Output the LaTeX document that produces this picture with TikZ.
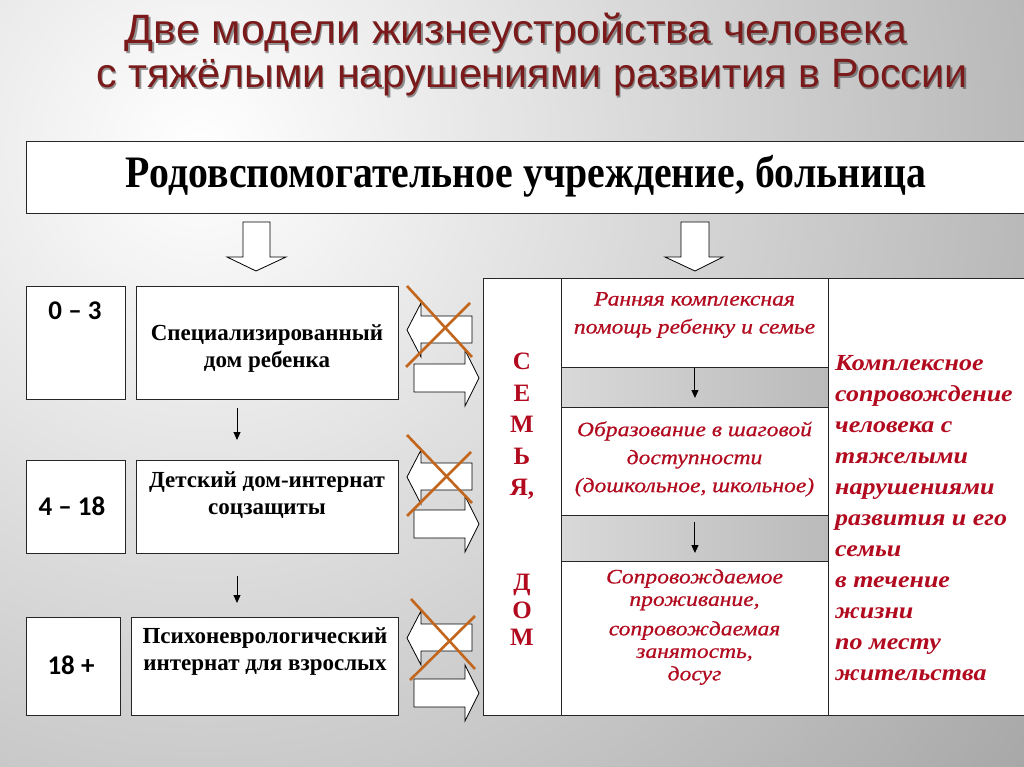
\documentclass[tikz,border=0pt]{standalone}
\usepackage{fontspec}
\usepackage{graphicx}
\usetikzlibrary{arrows.meta}
\setmainfont{Liberation Serif}
\newfontfamily\titlefont{Liberation Sans}
\newfontfamily\agefont{Carlito}
\newfontfamily\midfont{Liberation Serif}[FakeStretch=1.15,FakeBold=0.6]
\newfontfamily\rcfont{Liberation Serif}[FakeStretch=1.13]
\definecolor{maroon}{HTML}{7A1A1A}
\definecolor{redtxt}{HTML}{B20A1E}
\definecolor{xorange}{HTML}{C2661E}
\definecolor{bgdark}{HTML}{A6A6A6}
\newcommand\stretchto[2]{\resizebox{#1pt}{\height}{#2}}
\newcommand\fsz[2]{\fontsize{#1}{#2}\selectfont}
\begin{document}
\begin{tikzpicture}[x=1pt,y=-1pt,
  box/.style={draw=black!85, line width=0.9pt, fill=white, anchor=north west, inner sep=0pt},
  bandbox/.style={draw=black!85, line width=0.9pt, left color=black!15, right color=black!27, anchor=north west, inner sep=0pt},
  blk/.style={draw=black, line width=0.8pt, fill=white, line join=miter},
  cross/.style={draw=xorange, line width=2.6pt},
  arr/.style={draw=black, line width=1pt, -{Triangle[length=8pt,width=7pt]}},
  agetxt/.style={font=\agefont\bfseries\fsz{27}{30}, inner sep=0pt},
  nametxt/.style={font=\bfseries\fsz{23}{27}, align=center, inner sep=0pt},
  midtxt/.style={font=\midfont\itshape\fsz{20.5}{28}, text=redtxt, align=center, inner sep=0pt},
  famtxt/.style={font=\bfseries\fsz{25}{31.5}, text=redtxt, align=center, inner sep=0pt},
]
\useasboundingbox (0,0) rectangle (1024,767);
\begin{scope}
\clip (0,0) rectangle (1024,767);
\fill[bgdark] (0,0) rectangle (1024,767);
\shade[inner color=white, outer color=bgdark] (200,150) circle (1050);

% title
\node[anchor=base, text=black!75, opacity=0.55] at (517.5,45.5) {\stretchto{782}{\titlefont\fsz{41}{41}Две модели жизнеустройства человека}};
\node[anchor=base, text=maroon] (title1) at (516,44) {\stretchto{782}{\titlefont\fsz{41}{41}Две модели жизнеустройства человека}};
\node[anchor=base, text=black!75, opacity=0.55] at (533.5,89.5) {\stretchto{871}{\titlefont\fsz{41}{41}с тяжёлыми нарушениями развития в России}};
\node[anchor=base, text=maroon] (title2) at (532,88) {\stretchto{871}{\titlefont\fsz{41}{41}с тяжёлыми нарушениями развития в России}};

% top box
\node[box, minimum width=1010, minimum height=72] (top) at (26,141) {};
\node[anchor=base, inner sep=0pt] (toptext) at (526,188) {\stretchto{800}{\bfseries\fsz{45}{45}Родовспомогательное учреждение, больница}};

% big down arrows
\draw[blk] (243,222) -- (270,222) -- (270,257) -- (286,257) -- (256,271) -- (227,257) -- (243,257) -- cycle;
\draw[blk] (681,222) -- (709,222) -- (709,257) -- (723,257) -- (695,271) -- (665,257) -- (681,257) -- cycle;

% left column
\node[box, minimum width=99, minimum height=113] (age1) at (26,286) {};
\node[box, minimum width=262, minimum height=113] (inst1) at (136,286) {};
\node[box, minimum width=99, minimum height=93] (age2) at (26,460) {};
\node[box, minimum width=262, minimum height=93] (inst2) at (136,460) {};
\node[box, minimum width=94, minimum height=98] (age3) at (26,617) {};
\node[box, minimum width=267, minimum height=98] (inst3) at (131,617) {};

\node[agetxt] (age1t) at (75,311) {0 – 3};
\node[agetxt] (age2t) at (72,506) {4 – 18};
\node[agetxt] (age3t) at (71,665) {18 +};

\node[nametxt] (inst1t) at (267,349) {Специализированный\\дом ребенка};
\node[nametxt] (inst2t) at (267,495.5) {Детский дом-интернат\\соцзащиты};
\node[nametxt] (inst3t) at (265,652) {Психоневрологический\\интернат для взрослых};

\coordinate (a1s) at (237,408);
\coordinate (a1e) at (237,440);
\coordinate (a2s) at (237,576);
\coordinate (a2e) at (237,603);
\draw[arr] (a1s) -- (a1e);
\draw[arr] (a2s) -- (a2e);

% double block arrows with crosses
\foreach \ld/\rd in {0/0, 147/146, 308/315}{
  \begin{scope}[shift={(0,\ld)}]
    \draw[blk] (407,330) -- (421,303) -- (421,316) -- (472,316) -- (472,343) -- (421,343) -- (421,357) -- cycle;
  \end{scope}
  \begin{scope}[shift={(0,\rd)}]
    \draw[blk] (414,364) -- (465,364) -- (465,350) -- (479,378) -- (465,406) -- (465,392) -- (414,392) -- cycle;
  \end{scope}
}
\draw[cross] (407,286) -- (472,357);
\draw[cross] (470,303) -- (406,367);
\draw[cross] (407,435) -- (472,503);
\draw[cross] (471,452) -- (407,516);
\draw[cross] (411,599) -- (475,669);
\draw[cross] (475,616) -- (410,680);

% right table
\node[box, minimum width=78, minimum height=437] (fam) at (483,278) {};
\node[box, minimum width=267, minimum height=89] (r1) at (561,278) {};
\node[bandbox, minimum width=267, minimum height=40] (g1) at (561,367) {};
\node[box, minimum width=267, minimum height=108] (r2) at (561,407) {};
\node[bandbox, minimum width=267, minimum height=46] (g2) at (561,515) {};
\node[box, minimum width=267, minimum height=154] (r3) at (561,561) {};
\node[box, minimum width=210, minimum height=437] (rc) at (828,278) {};

\draw[arr, shorten >=9pt] (r1.south) -- (r2.north);
\draw[arr, shorten <=6pt, shorten >=8pt] (r2.south) -- (r3.north);

\node[famtxt, anchor=north] (fam1) at (522,353) {С\\Е\\М\\Ь\\Я,};
\node[famtxt, anchor=north, font=\bfseries\fsz{25}{27.5}] (fam2) at (522,574) {Д\\О\\М};

\node[midtxt] (r1t) at (694.5,315) {Ранняя комплексная\\помощь ребенку и семье};
\node[midtxt] (r2t) at (694.5,459) {Образование в шаговой\\доступности\\(дошкольное, школьное)};
\node[midtxt, font=\midfont\itshape\fsz{20.5}{22.5}] (r3t) at (694.5,627) {Сопровождаемое\\проживание,\\[7pt]сопровождаемая\\занятость,\\досуг};

\node[anchor=north west, inner sep=0pt, align=left, text=redtxt, font=\rcfont\bfseries\itshape\fsz{23}{31}] (rct) at (835,355) {Комплексное\\сопровождение\\человека с\\тяжелыми\\нарушениями\\развития и его\\семьи\\в течение\\жизни\\по месту\\жительства};
\end{scope}
\end{tikzpicture}
\end{document}
